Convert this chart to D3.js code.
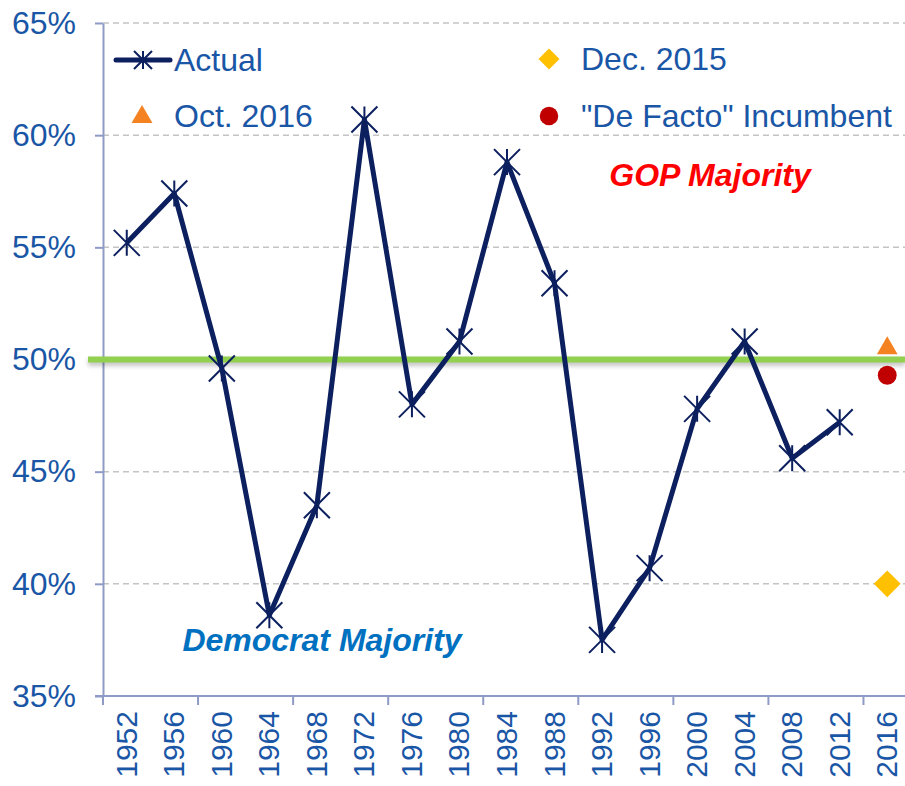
<!DOCTYPE html>
<html>
<head>
<meta charset="utf-8">
<script src="https://cdn.jsdelivr.net/npm/d3@7"></script>
<style>
  body { margin: 0; background: #fff; }
  svg { display: block; font-family: "Liberation Sans", Arial, sans-serif; }
</style>
</head>
<body>
<div id="chart"></div>
<script>
// data
const years = ['1952', '1956', '1960', '1964', '1968', '1972', '1976', '1980', '1984',
  '1988', '1992', '1996', '2000', '2004', '2008', '2012', '2016'];
const actual = [55.2, 57.4, 49.6, 38.6, 43.5, 60.7, 48.0, 50.8, 58.8,
  53.4, 37.5, 40.7, 47.8, 50.8, 45.6, 47.2, null];
const oct2016 = [{ year: '2016', value: 50.5 }];
const dec2015 = [{ year: '2016', value: 40.0 }];
const deFacto = [{ year: '2016', value: 49.3 }];
const yTicks = [35, 40, 45, 50, 55, 60, 65];
const majorityLine = 50;

const width = 905;
const height = 786;
const margin = { top: 23, right: -6, bottom: 90, left: 103 };

const navy = '#0c1f5e';
const textBlue = '#1a56a6';
const axisColor = '#8f9bc6';

const svg = d3.select('#chart')
  .append('svg')
  .attr('width', width)
  .attr('height', height);

const x = d3.scaleBand()
  .domain(years)
  .range([margin.left, width - margin.right]);

const y = d3.scaleLinear()
  .domain([35, 65])
  .range([height - margin.bottom, margin.top]);

const cx = (d) => x(d) + x.bandwidth() / 2;

// dashed gridlines
svg.append('g')
  .selectAll('line')
  .data(yTicks.slice(1))
  .join('line')
  .attr('x1', margin.left)
  .attr('x2', width)
  .attr('y1', (d) => y(d))
  .attr('y2', (d) => y(d))
  .attr('stroke', '#c4c4c4')
  .attr('stroke-width', 1.5)
  .attr('stroke-dasharray', '6,4');

// y axis
const yAxis = svg.append('g')
  .attr('transform', `translate(${margin.left},0)`)
  .call(d3.axisLeft(y).tickValues(yTicks).tickSize(8).tickSizeOuter(0).tickFormat((d) => d + '%'));
yAxis.select('.domain').attr('stroke', axisColor).attr('stroke-width', 2);
yAxis.selectAll('.tick line').attr('stroke', axisColor).attr('stroke-width', 2);
yAxis.selectAll('.tick text')
  .attr('x', -27)
  .attr('fill', textBlue)
  .style('font-size', '32px')
  .style('font-family', '"Liberation Sans", Arial, sans-serif');

// x axis: line, ticks every other category boundary
const xAxisY = y(35);
svg.append('line')
  .attr('x1', margin.left - 8)
  .attr('x2', width)
  .attr('y1', xAxisY)
  .attr('y2', xAxisY)
  .attr('stroke', axisColor)
  .attr('stroke-width', 2);

svg.append('g')
  .selectAll('line')
  .data(years.filter((d, i) => i % 2 === 0))
  .join('line')
  .attr('x1', (d) => x(d))
  .attr('x2', (d) => x(d))
  .attr('y1', xAxisY)
  .attr('y2', xAxisY + 9)
  .attr('stroke', axisColor)
  .attr('stroke-width', 2);

svg.append('g')
  .selectAll('text')
  .data(years)
  .join('text')
  .attr('transform', (d) => `translate(${cx(d) + 10},${xAxisY + 15}) rotate(-90)`)
  .attr('text-anchor', 'end')
  .attr('fill', textBlue)
  .style('font-size', '30px')
  .text((d) => d);

// 50% majority line with a soft shadow underneath
svg.append('line')
  .attr('x1', 88)
  .attr('x2', width)
  .attr('y1', y(majorityLine) + 3)
  .attr('y2', y(majorityLine) + 3)
  .attr('stroke', '#000')
  .attr('stroke-opacity', 0.22)
  .attr('stroke-width', 7)
  .style('filter', 'blur(2px)');

svg.append('line')
  .attr('x1', 88)
  .attr('x2', width)
  .attr('y1', y(majorityLine))
  .attr('y2', y(majorityLine))
  .attr('stroke', '#92d050')
  .attr('stroke-width', 6);

// actual series line
const pts = years.map((d, i) => ({ year: d, value: actual[i] })).filter((d) => d.value != null);

svg.append('path')
  .datum(pts)
  .attr('fill', 'none')
  .attr('stroke', navy)
  .attr('stroke-width', 5)
  .attr('stroke-linejoin', 'round')
  .attr('d', d3.line().x((d) => cx(d.year)).y((d) => y(d.value)));

const star = (sel, r) => {
  sel.append('path')
    .attr('d', `M${-r},${-r}L${r},${r}M${-r},${r}L${r},${-r}M0,${-r}L0,${r}`)
    .attr('stroke', navy)
    .attr('stroke-width', 2)
    .attr('fill', 'none');
};

svg.append('g')
  .selectAll('g')
  .data(pts)
  .join('g')
  .attr('transform', (d) => `translate(${cx(d.year)},${y(d.value)})`)
  .call(star, 13);

// 2016 forecast markers
svg.append('g')
  .selectAll('path')
  .data(oct2016)
  .join('path')
  .attr('transform', (d) => `translate(${cx(d.year)},${y(d.value)})`)
  .attr('d', d3.symbol(d3.symbolTriangle, 185))
  .attr('fill', '#f58220');

svg.append('g')
  .selectAll('path')
  .data(deFacto)
  .join('path')
  .attr('transform', (d) => `translate(${cx(d.year)},${y(d.value)})`)
  .attr('d', d3.symbol(d3.symbolCircle, 280))
  .attr('fill', '#c00000');

svg.append('g')
  .selectAll('path')
  .data(dec2015)
  .join('path')
  .attr('transform', (d) => `translate(${cx(d.year)},${y(d.value)}) rotate(45)`)
  .attr('d', d3.symbol(d3.symbolSquare, 360))
  .attr('fill', '#ffc000');

// legend
const legend = svg.append('g');
const legendText = (lx, ly, t) => legend.append('text')
  .attr('x', lx).attr('y', ly).attr('dy', '0.35em')
  .attr('fill', textBlue).style('font-size', '32px').text(t);

legend.append('line')
  .attr('x1', 116).attr('x2', 170).attr('y1', 60).attr('y2', 60)
  .attr('stroke', navy).attr('stroke-width', 5).attr('stroke-linecap', 'round');
legend.append('g').attr('transform', 'translate(143,60)').call(star, 9);
legendText(174, 60, 'Actual');

legend.append('path')
  .attr('transform', 'translate(142,117)')
  .attr('d', d3.symbol(d3.symbolTriangle, 190))
  .attr('fill', '#f58220');
legendText(174, 116, 'Oct. 2016');

legend.append('path')
  .attr('transform', 'translate(549,59) rotate(45)')
  .attr('d', d3.symbol(d3.symbolSquare, 220))
  .attr('fill', '#ffc000');
legendText(581, 59, 'Dec. 2015');

legend.append('path')
  .attr('transform', 'translate(549,116)')
  .attr('d', d3.symbol(d3.symbolCircle, 270))
  .attr('fill', '#c00000');
legendText(581, 116, '"De Facto" Incumbent');

// annotations
svg.append('text')
  .attr('x', 710).attr('y', 186)
  .attr('text-anchor', 'middle')
  .attr('fill', '#ff0000')
  .style('font-size', '32px').style('font-weight', 'bold').style('font-style', 'italic')
  .text('GOP Majority');

svg.append('text')
  .attr('x', 322).attr('y', 651)
  .attr('text-anchor', 'middle')
  .attr('fill', '#0070c0')
  .style('font-size', '32px').style('font-weight', 'bold').style('font-style', 'italic')
  .text('Democrat Majority');
</script>
</body>
</html>
